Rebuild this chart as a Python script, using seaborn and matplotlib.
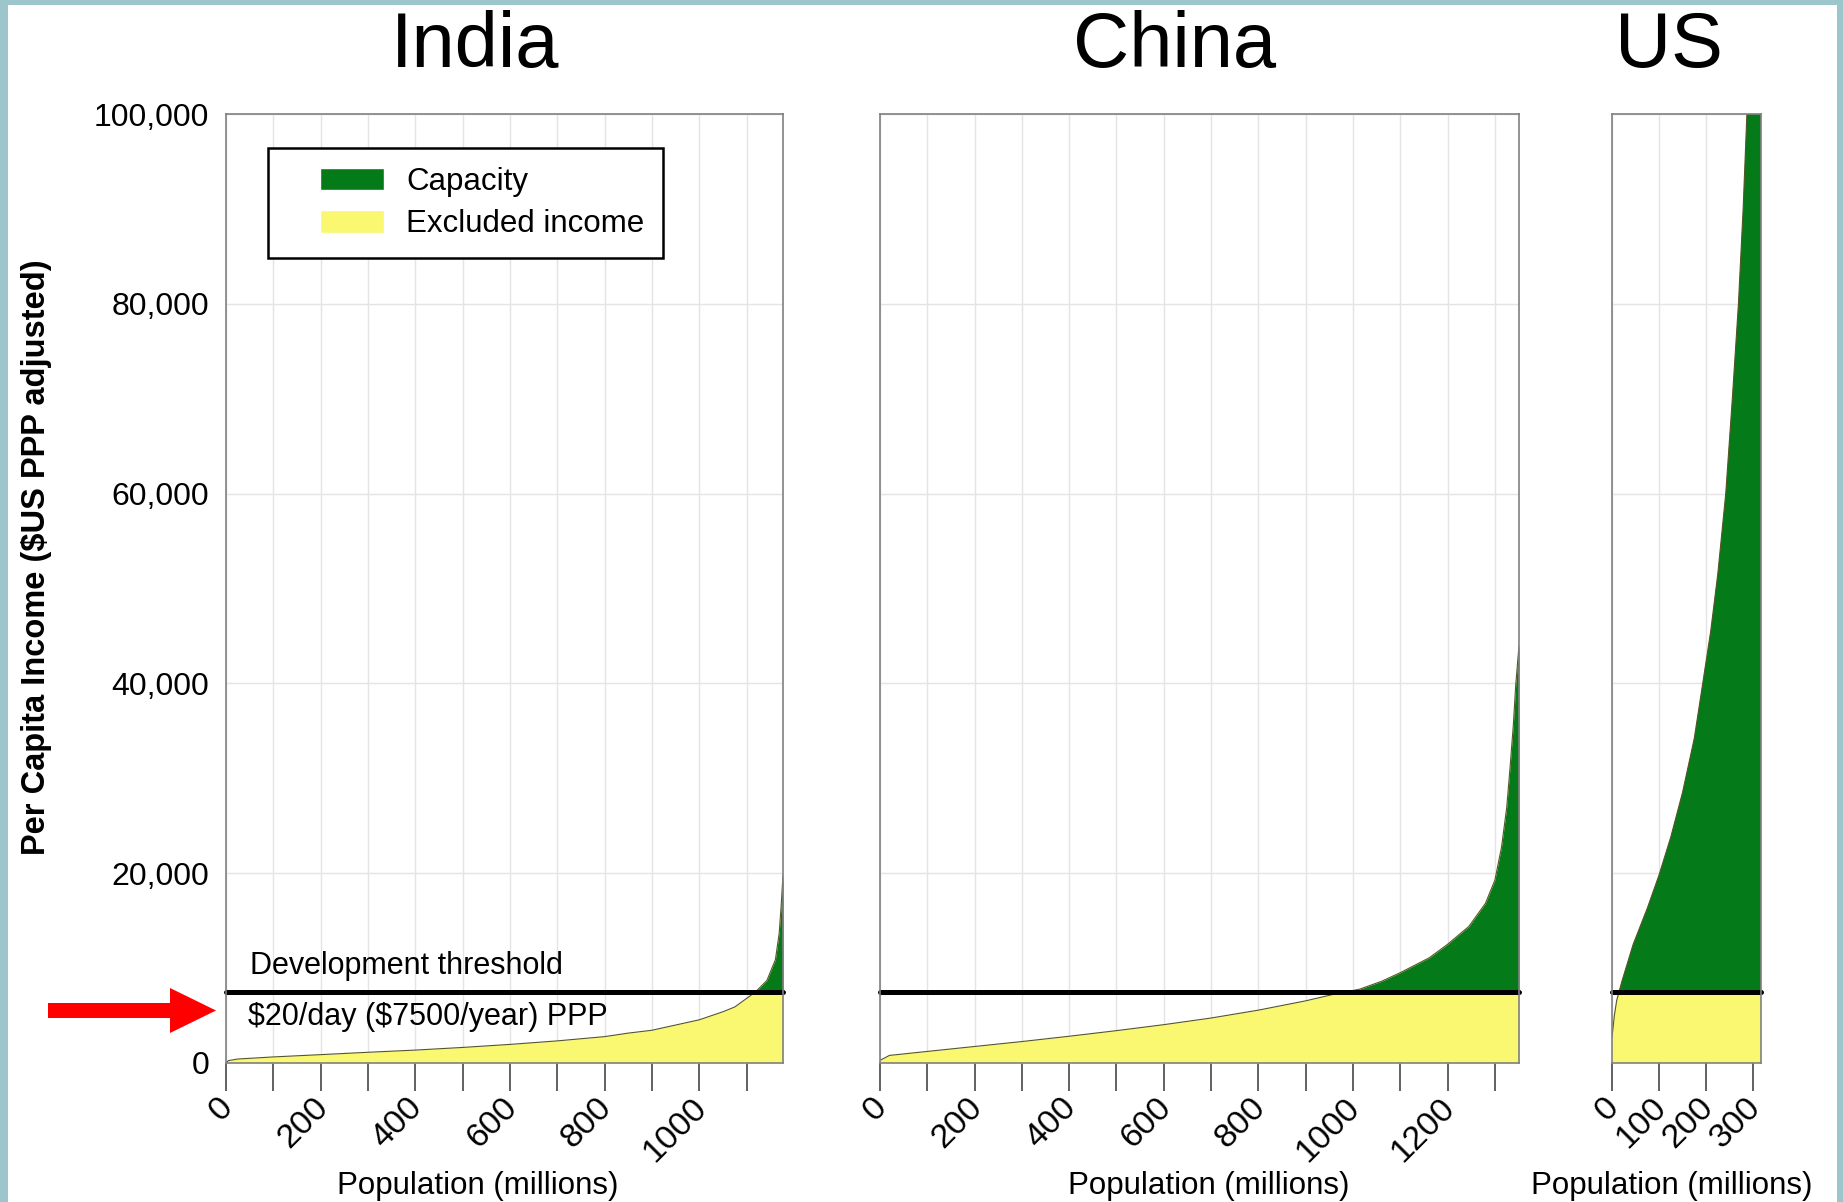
import numpy as np
import matplotlib
matplotlib.use("Agg")
import matplotlib.pyplot as plt
import seaborn as sns
from matplotlib.patches import Patch, Rectangle, Polygon
from matplotlib.legend_handler import HandlerPatch

# per capita income (PPP $) against cumulative population (millions)
india_pop = [0, 5, 25, 100, 200, 300, 400, 500, 600, 700, 800, 850, 900, 950, 1000,
             1050, 1075, 1100, 1119, 1143, 1161, 1169, 1173, 1177]
india_income = [0, 250, 420, 640, 880, 1130, 1360, 1640, 1960, 2330, 2780, 3150, 3450,
                4000, 4550, 5400, 5900, 6800, 7500, 8700, 10900, 13700, 16500, 19800]

china_pop = [0, 20, 100, 200, 300, 400, 500, 600, 700, 800, 900, 960, 1014, 1060,
             1100, 1161, 1199, 1245, 1280, 1300, 1314, 1325, 1332, 1339, 1344, 1351]
china_income = [280, 800, 1220, 1740, 2260, 2820, 3410, 4040, 4740, 5570, 6550,
                7250, 7780, 8600, 9520, 11080, 12470, 14390, 16820, 19260, 22730,
                26900, 31080, 35600, 39780, 44000]

us_pop = [0, 5, 10, 21, 45, 75, 100, 125, 150, 175, 193, 210, 225, 242, 256, 269,
          279, 287, 300, 317]
us_income = [2700, 5000, 6600, 8600, 12500, 16300, 19800, 23800, 28500, 34200,
             40000, 45500, 51500, 60000, 70000, 80000, 90000, 100000, 120000, 250000]

countries = ["India", "China", "US"]
threshold = 7500
y_ticks = [0, 20000, 40000, 60000, 80000, 100000]
y_tick_labels = ["0", "20,000", "40,000", "60,000", "80,000", "100,000"]
x_label_step = {"India": 200, "China": 200, "US": 100}

GREEN = "#047a19"
YELLOW = "#f9f870"
W, H = 1843, 1202

sns.set_theme(style="whitegrid")
plt.rcParams["font.family"] = ["Liberation Sans", "DejaVu Sans"]
plt.rcParams.update({"text.color": "black", "axes.labelcolor": "black",
                     "xtick.color": "black", "ytick.color": "black"})


def fx(px):
    return px / W


def fy(py):
    return 1 - py / H


def offset_patch(legend, orig_handle, xdescent, ydescent, width, height, fontsize):
    # legend swatch sits at the right end of a wider handle box
    pw = 2.05 * fontsize
    return Rectangle((width - pw - xdescent, -ydescent), pw, height)


fig = plt.figure(figsize=(W / 100, H / 100), dpi=100)
fig.patch.set_facecolor("#9cc6cc")
fig.add_artist(Rectangle((fx(8), 0), fx(1837) - fx(8), fy(5), transform=fig.transFigure,
                         facecolor="white", edgecolor="none", zorder=-1))

# axes boxes in pixels: left, right ; all share top 114 and bottom 1063
boxes = {"India": (226, 783), "China": (880, 1519), "US": (1612, 1761)}
data = {"India": (india_pop, india_income),
        "China": (china_pop, china_income),
        "US": (us_pop, us_income)}
title_x = {"India": 475, "China": 1175, "US": 1669}
xlabel_x = {"India": 478, "China": 1209, "US": 1672}

axes = {}
for name in countries:
    l, r = boxes[name]
    ax = fig.add_axes([fx(l), fy(1063), fx(r) - fx(l), fy(114) - fy(1063)])
    axes[name] = ax
    pop, inc = np.array(data[name][0]), np.array(data[name][1])

    ax.fill_between(pop, 0, inc, color=YELLOW, lw=0, zorder=2)
    ax.fill_between(pop, threshold, inc, where=inc >= threshold, interpolate=True,
                    color=GREEN, lw=0, zorder=3)
    sns.lineplot(x=pop, y=inc, ax=ax, color="#55552a", lw=0.8, legend=False, zorder=4)
    ax.axhline(threshold, color="black", lw=3.6, zorder=5, clip_on=False)

    ax.set_xlim(0, pop[-1])
    ax.set_ylim(0, 100000)
    ticks = np.arange(0, pop[-1] + 1, 100)
    ax.set_xticks(ticks)
    ax.set_xticklabels([str(int(t)) if t % x_label_step[name] == 0 else "" for t in ticks],
                       rotation=45, ha="right", va="center_baseline", rotation_mode="anchor",
                       fontsize=24.5)
    ax.set_yticks(y_ticks)
    if name == "India":
        ax.set_yticklabels(y_tick_labels, fontsize=23)
    else:
        ax.set_yticklabels([])
    ax.tick_params(axis="x", length=20, width=1.3, color="#555555", direction="out",
                   bottom=True, pad=7)
    ax.tick_params(axis="y", length=0, pad=12)
    ax.grid(True, color="#e4e4e4", lw=1)
    ax.set_xlabel("")
    ax.set_ylabel("")
    for s in ax.spines.values():
        s.set_color("#808080")
        s.set_linewidth(1.2)
        s.set_zorder(6)

    fig.text(fx(title_x[name]), fy(47), name, fontsize=56, ha="center", va="center")
    fig.text(fx(xlabel_x[name]), fy(1194), "Population (millions)", fontsize=22.5,
             ha="center", va="baseline")

ax = axes["India"]
leg = ax.legend(handles=[Patch(facecolor=GREEN, label="Capacity"),
                         Patch(facecolor=YELLOW, label="Excluded income")],
                handler_map={Patch: HandlerPatch(patch_func=offset_patch)},
                loc="upper left", bbox_to_anchor=(0.0754, 0.964), borderaxespad=0,
                fontsize=22.5, frameon=True, fancybox=False, edgecolor="black",
                framealpha=1, borderpad=0.6, handlelength=3.1, handleheight=0.72,
                handletextpad=0.72, labelspacing=0.4)
leg.get_frame().set_linewidth(1.8)
leg.set_zorder(10)

ax.text(0.043, 10220, "Development threshold", transform=ax.get_yaxis_transform(),
        fontsize=22, ha="left", va="center", zorder=7)
ax.text(0.040, 4850, r"\$20/day (\$7500/year) PPP", transform=ax.get_yaxis_transform(),
        fontsize=22, ha="left", va="center", zorder=7)

fig.text(fx(37), fy(557), r"Per Capita Income (\$US PPP adjusted)", rotation=90,
         fontsize=23.5, fontweight="bold", ha="center", va="center")

arrow = [(48, 1003), (170, 1003), (170, 988), (216, 1010.5), (170, 1033), (170, 1018), (48, 1018)]
fig.add_artist(Polygon([(fx(px), fy(py)) for px, py in arrow], closed=True,
                       transform=fig.transFigure, facecolor="#ff0000", edgecolor="none"))

fig.savefig("out.png", dpi=100, facecolor=fig.get_facecolor())
